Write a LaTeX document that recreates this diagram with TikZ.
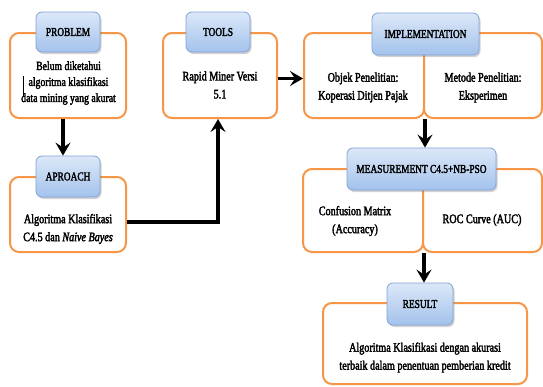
\documentclass[tikz,border=0pt]{standalone}
\usepackage{fontspec}
\setmainfont{Liberation Serif}[FakeStretch=0.78,FakeBold=2.5]
\usetikzlibrary{arrows.meta,shadows}
\definecolor{orng}{HTML}{F79646}
\definecolor{bluedraw}{HTML}{7FA3D6}
\definecolor{bluetop}{HTML}{DCE8F8}
\definecolor{bluebot}{HTML}{A3C2EC}
\begin{document}
\begin{tikzpicture}[x=1pt,y=-1pt,
  obox/.style={draw=orng, line width=2pt, rounded corners=9pt, fill=white, inner sep=0pt},
  ttl/.style={draw=bluedraw, line width=0.8pt, rounded corners=6pt, top color=bluetop, bottom color=bluebot,
    drop shadow={shadow xshift=1.5pt, shadow yshift=-2pt, opacity=0.35}, inner sep=0pt,
    font=\fontsize{12}{14}\selectfont},
  txt/.style={align=center, inner sep=0pt, font=\fontsize{13}{18}\selectfont},
  arr/.style={line width=3.2pt, -{Stealth[length=13pt,width=15pt,inset=5pt]}}]
\useasboundingbox (0,0) rectangle (543,386);
% orange boxes
\node[obox, minimum width=116pt, minimum height=85pt] (prob) at (68,75.5) {};
\node[obox, minimum width=116pt, minimum height=75pt] (apr) at (68,214.5) {};
\node[obox, minimum width=114pt, minimum height=85pt] (tools) at (220,75.5) {};
\node[obox, minimum width=120pt, minimum height=85pt] (impl1) at (364,75.5) {};
\node[obox, minimum width=118pt, minimum height=85pt] (impl2) at (483,75.5) {};
\node[obox, minimum width=120pt, minimum height=83pt] (meas1) at (363,210.5) {};
\node[obox, minimum width=119pt, minimum height=83pt] (meas2) at (482.5,210.5) {};
\node[obox, minimum width=204pt, minimum height=81pt] (res) at (425,343.5) {};
% titles
\node[ttl, minimum width=64pt, minimum height=40pt] (probt) at (68,32) {PROBLEM};
\node[ttl, minimum width=64pt, minimum height=41pt] (aprt) at (68,176.5) {APROACH};
\node[ttl, minimum width=64pt, minimum height=40pt] (toolst) at (218,32) {TOOLS};
\node[ttl, minimum width=107pt, minimum height=42pt] (implt) at (425.5,34) {IMPLEMENTATION};
\node[ttl, minimum width=149pt, minimum height=42pt] (meast) at (421.5,169) {MEASUREMENT C4.5+NB-PSO};
\node[ttl, minimum width=66pt, minimum height=42pt] (rest) at (420,304) {RESULT};
% texts
\node[txt, font=\fontsize{12.5}{16}\selectfont] (probx) at (68.5,83) {Belum diketahui\\algoritma klasifikasi\\data mining yang akurat};
\draw[line width=0.8pt] (23,76) -- (23,96);
\node[txt] (aprx) at (68,229) {Algoritma Klasifikasi\\C4.5 dan \textit{Naive Bayes}};
\node[txt] (toolsx) at (220,85) {Rapid Miner Versi\\5.1};
\node[txt] (impl1x) at (363,87.5) {Objek Penelitian:\\Koperasi Ditjen Pajak};
\node[txt] (impl2x) at (483,87.5) {Metode Penelitian:\\Eksperimen};
\node[txt] (meas1x) at (355,221) {Confusion Matrix\\(Accuracy)};
\node[txt] (meas2x) at (482,220) {ROC Curve (AUC)};
\node[txt] (resx) at (425,357.5) {Algoritma Klasifikasi dengan akurasi\\terbaik dalam penentuan pemberian kredit};
% connectors
\draw[arr] ([xshift=-5pt]prob.south) -- ([xshift=-5pt]aprt.north);
\draw[arr] ([yshift=-7.5pt]apr.east) -| ([xshift=-2pt]tools.south);
\draw[arr] ([yshift=-3pt]tools.east) -- ([yshift=-3pt]impl1.west);
\draw[arr] (impl1.south east) -- (meast.north -| impl1.south east);
\draw[arr] (meas1.south east) -- (rest.north -| meas1.south east);
\end{tikzpicture}
\end{document}
